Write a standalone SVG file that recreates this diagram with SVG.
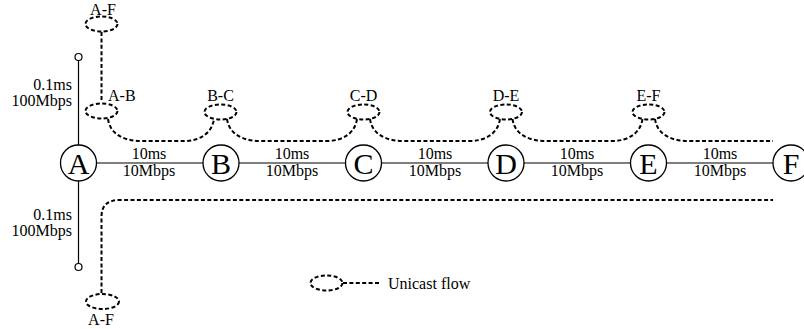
<svg xmlns="http://www.w3.org/2000/svg" width="804" height="329" viewBox="0 0 804 329">
  <style>
    .link { stroke: #000; stroke-width: 1.2; fill: none; }
    .node circle { fill: #fff; stroke: #000; stroke-width: 1.3; }
    .node text { font-family: "Liberation Serif", Tinos, "Times New Roman", Times, "DejaVu Serif", serif; font-size: 30px; text-anchor: middle; fill: #000; }
    .lbl { font-family: "Liberation Serif", Tinos, "Times New Roman", Times, "DejaVu Serif", serif; font-size: 16px; fill: #000; }
    .mid { text-anchor: middle; }
    .end { text-anchor: end; }
    .flow { stroke: #000; stroke-width: 2; stroke-dasharray: 4 2.4; fill: none; }
    .term { fill: #fff; stroke: #000; stroke-width: 1.2; }
  </style>

  <!-- physical links -->
  <g id="connectors">
    <line class="link" x1="78.5" y1="163" x2="791" y2="163"/>
    <line class="link" x1="78.5" y1="60" x2="78.5" y2="264"/>
    <circle class="term" cx="78.5" cy="57" r="3.5"/>
    <circle class="term" cx="78.5" cy="267" r="3.5"/>

    <!-- link labels -->
    <text class="lbl end" x="72" y="90">0.1ms</text>
    <text class="lbl end" x="72" y="106">100Mbps</text>
    <text class="lbl end" x="72" y="220">0.1ms</text>
    <text class="lbl end" x="72" y="236">100Mbps</text>

    <text class="lbl mid" x="149" y="159">10ms</text>
    <text class="lbl mid" x="149" y="176">10Mbps</text>
    <text class="lbl mid" x="292" y="159">10ms</text>
    <text class="lbl mid" x="292" y="176">10Mbps</text>
    <text class="lbl mid" x="435" y="159">10ms</text>
    <text class="lbl mid" x="435" y="176">10Mbps</text>
    <text class="lbl mid" x="577" y="159">10ms</text>
    <text class="lbl mid" x="577" y="176">10Mbps</text>
    <text class="lbl mid" x="720" y="159">10ms</text>
    <text class="lbl mid" x="720" y="176">10Mbps</text>
  </g>

  <!-- unicast flows -->
  <g id="flows">
    <!-- A-F via top branch -->
    <ellipse class="flow" cx="101.5" cy="24" rx="16" ry="7.5"/>
    <text class="lbl mid" x="103" y="15">A-F</text>
    <line class="flow" x1="101.5" y1="32" x2="101.5" y2="102"/>

    <!-- per-hop flows -->
    <ellipse class="flow" cx="101.5" cy="111" rx="16" ry="7.5"/>
    <text class="lbl" x="108" y="101">A-B</text>
    <ellipse class="flow" cx="220.5" cy="112" rx="16" ry="7.5"/>
    <text class="lbl mid" x="220.5" y="101">B-C</text>
    <ellipse class="flow" cx="363.5" cy="112" rx="16" ry="7.5"/>
    <text class="lbl mid" x="363.5" y="101">C-D</text>
    <ellipse class="flow" cx="506" cy="112" rx="16" ry="7.5"/>
    <text class="lbl mid" x="506" y="101">D-E</text>
    <ellipse class="flow" cx="648.5" cy="112" rx="16" ry="7.5"/>
    <text class="lbl mid" x="648.5" y="101">E-F</text>

    <path class="flow" d="M108,119 C110,133 122,141 142,141 L184,141 C200,141 212,133 214,119"/>
    <path class="flow" d="M227,119 C229,133 241,141 261,141 L327,141 C343,141 355,133 357,119"/>
    <path class="flow" d="M370,119 C372,133 384,141 404,141 L470,141 C486,141 498,133 500,119"/>
    <path class="flow" d="M512.5,119 C514.5,133 526.5,141 546.5,141 L612.5,141 C628.5,141 640.5,133 642.5,119"/>
    <path class="flow" d="M655,119 C657,133 669,141 689,141 L773,141"/>

    <!-- A-F via bottom branch -->
    <path class="flow" d="M101.5,293 L101.5,217 C101.5,205 108,200 120,200 L773,200"/>
    <ellipse class="flow" cx="102.5" cy="301.5" rx="16.5" ry="7.5"/>
    <text class="lbl mid" x="101" y="325">A-F</text>
  </g>

  <!-- nodes -->
  <g id="node-A" class="node"><circle cx="78.5" cy="163" r="18"/><text x="78.5" y="173.5">A</text></g>
  <g id="node-B" class="node"><circle cx="221" cy="163" r="18"/><text x="221" y="173.5">B</text></g>
  <g id="node-C" class="node"><circle cx="363.5" cy="163" r="18"/><text x="363.5" y="173.5">C</text></g>
  <g id="node-D" class="node"><circle cx="506" cy="163" r="18"/><text x="506" y="173.5">D</text></g>
  <g id="node-E" class="node"><circle cx="648.5" cy="163" r="18"/><text x="648.5" y="173.5">E</text></g>
  <g id="node-F" class="node"><circle cx="791" cy="163" r="18"/><text x="791" y="173.5">F</text></g>

  <!-- legend -->
  <g id="legend">
    <ellipse class="flow" cx="326.5" cy="283" rx="16" ry="7.5"/>
    <line class="flow" x1="343" y1="283" x2="379" y2="283"/>
    <text class="lbl" x="388" y="289">Unicast flow</text>
  </g>
</svg>
